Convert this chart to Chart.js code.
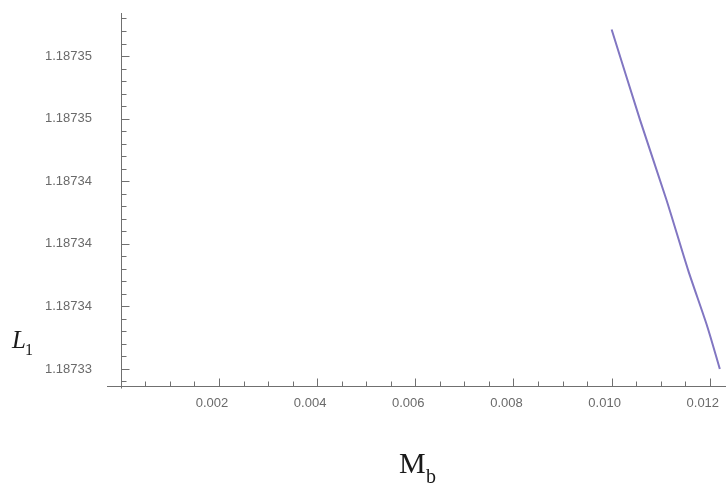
<!DOCTYPE html>
<html>
<head>
<meta charset="utf-8">
<script src="https://cdn.jsdelivr.net/npm/chart.js@4.4.1/dist/chart.umd.min.js"></script>
<style>
  html, body { margin: 0; padding: 0; background: #fff; }
  canvas { display: block; }
</style>
</head>
<body>
<canvas id="chart" width="726" height="486"></canvas>
<script>
// values
const xMajorTicks = [0.002, 0.004, 0.006, 0.008, 0.010, 0.012];
const xTickLabels = ['0.002', '0.004', '0.006', '0.008', '0.010', '0.012'];
const yMajorTicks = [1.187332, 1.187336, 1.187340, 1.187344, 1.187348, 1.187352];
const yTickLabels = ['1.18733', '1.18734', '1.18734', '1.18734', '1.18735', '1.18735'];
const massB = [0.01000, 0.010580, 0.011118, 0.011560, 0.011950, 0.012204];
const l1Values = [1.1873537, 1.1873479, 1.1873428, 1.1873383, 1.1873347, 1.187332];

const xMin = -0.000281, xMax = 0.01233;
const yMin = 1.18733091, yMax = 1.18735475;
const axisColor = '#707070';
const labelColor = '#6a6a6a';

function buildTicks(majors, parts, min, max) {
  const step = (majors[1] - majors[0]) / parts;
  const base = majors[0];
  const out = [];
  const kStart = Math.ceil((min - base) / step - 1e-6);
  const kEnd = Math.floor((max - base) / step + 1e-6);
  for (let k = kStart; k <= kEnd; k++) {
    const major = k >= 0 && k % parts === 0 && k / parts < majors.length;
    out.push({ value: base + k * step, major });
  }
  return out;
}

function labelFor(majors, labels, v, tol) {
  const i = majors.findIndex((t) => Math.abs(t - v) < tol);
  return i >= 0 ? labels[i] : '';
}

function noPadding(scale) {
  scale.paddingTop = 0;
  scale.paddingBottom = 0;
  scale.paddingLeft = 0;
  scale.paddingRight = 0;
}

// Mathematica style: y axis sits at x = 0, ticks point inwards
const axesMarks = {
  id: 'axesMarks',
  afterDraw(chart) {
    const { ctx, scales: { x, y } } = chart;
    const ax = Math.round(x.getPixelForValue(0)) + 0.5;
    const ay = Math.round(y.getPixelForValue(yMin)) + 0.5;
    ctx.save();
    ctx.strokeStyle = axisColor;
    ctx.lineWidth = 1;
    ctx.beginPath();
    ctx.moveTo(ax, y.top);
    ctx.lineTo(ax, ay + 2);
    x.ticks.forEach((t) => {
      const px = Math.round(x.getPixelForValue(t.value)) + 0.5;
      ctx.moveTo(px, ay);
      ctx.lineTo(px, ay - (t.major ? 8 : 5));
    });
    y.ticks.forEach((t) => {
      const py = Math.round(y.getPixelForValue(t.value)) + 0.5;
      ctx.moveTo(ax, py);
      ctx.lineTo(ax + (t.major ? 8 : 5), py);
    });
    ctx.stroke();
    ctx.restore();
  },
};

const axisTitles = {
  id: 'axisTitles',
  afterDraw(chart) {
    const ctx = chart.ctx;
    ctx.save();
    ctx.fillStyle = '#1a1a1a';
    ctx.textBaseline = 'alphabetic';
    ctx.textAlign = 'left';
    ctx.font = 'italic 25px "Liberation Serif"';
    ctx.fillText('L', 12, 348);
    ctx.font = '16px "Liberation Serif"';
    ctx.fillText('1', 25, 355);
    ctx.font = '30px "Liberation Serif"';
    ctx.fillText('M', 399, 473);
    ctx.font = '20px "Liberation Serif"';
    ctx.fillText('b', 426, 483);
    ctx.restore();
  },
};

new Chart(document.getElementById('chart').getContext('2d'), {
  type: 'scatter',
  data: {
    datasets: [
      {
        data: massB.map((m, i) => ({ x: m, y: l1Values[i] })),
        showLine: true,
        borderColor: '#8176c2',
        borderWidth: 2,
        pointRadius: 0,
        tension: 0.25,
        fill: false,
      },
    ],
  },
  options: {
    responsive: false,
    animation: false,
    layout: { autoPadding: false, padding: { left: 0, top: 13, right: 0, bottom: 100 } },
    plugins: { legend: { display: false }, tooltip: { enabled: false } },
    scales: {
      x: {
        type: 'linear',
        position: { y: yMin },
        min: xMin,
        max: xMax,
        afterFit: noPadding,
        afterBuildTicks: (scale) => {
          scale.ticks = buildTicks(xMajorTicks, 4, xMin, xMax);
        },
        grid: { display: true, drawOnChartArea: false, drawTicks: false },
        border: { display: true, color: axisColor, width: 1 },
        ticks: {
          autoSkip: false,
          maxRotation: 0,
          minRotation: 0,
          padding: 10,
          labelOffset: -7,
          color: labelColor,
          font: { family: '"Liberation Sans", Arial, sans-serif', size: 13 },
          callback: (v) => labelFor(xMajorTicks, xTickLabels, v, 1e-9),
        },
      },
      y: {
        type: 'linear',
        position: 'left',
        min: yMin,
        max: yMax,
        afterFit: (scale) => {
          scale.width = 107;
          noPadding(scale);
        },
        afterBuildTicks: (scale) => {
          scale.ticks = buildTicks(yMajorTicks, 5, yMin, yMax);
        },
        grid: { display: false, drawTicks: false },
        border: { display: false },
        ticks: {
          autoSkip: false,
          padding: 15,
          color: labelColor,
          font: { family: '"Liberation Sans", Arial, sans-serif', size: 13 },
          callback: (v) => labelFor(yMajorTicks, yTickLabels, v, 1e-10),
        },
      },
    },
  },
  plugins: [axesMarks, axisTitles],
});
</script>
</body>
</html>
